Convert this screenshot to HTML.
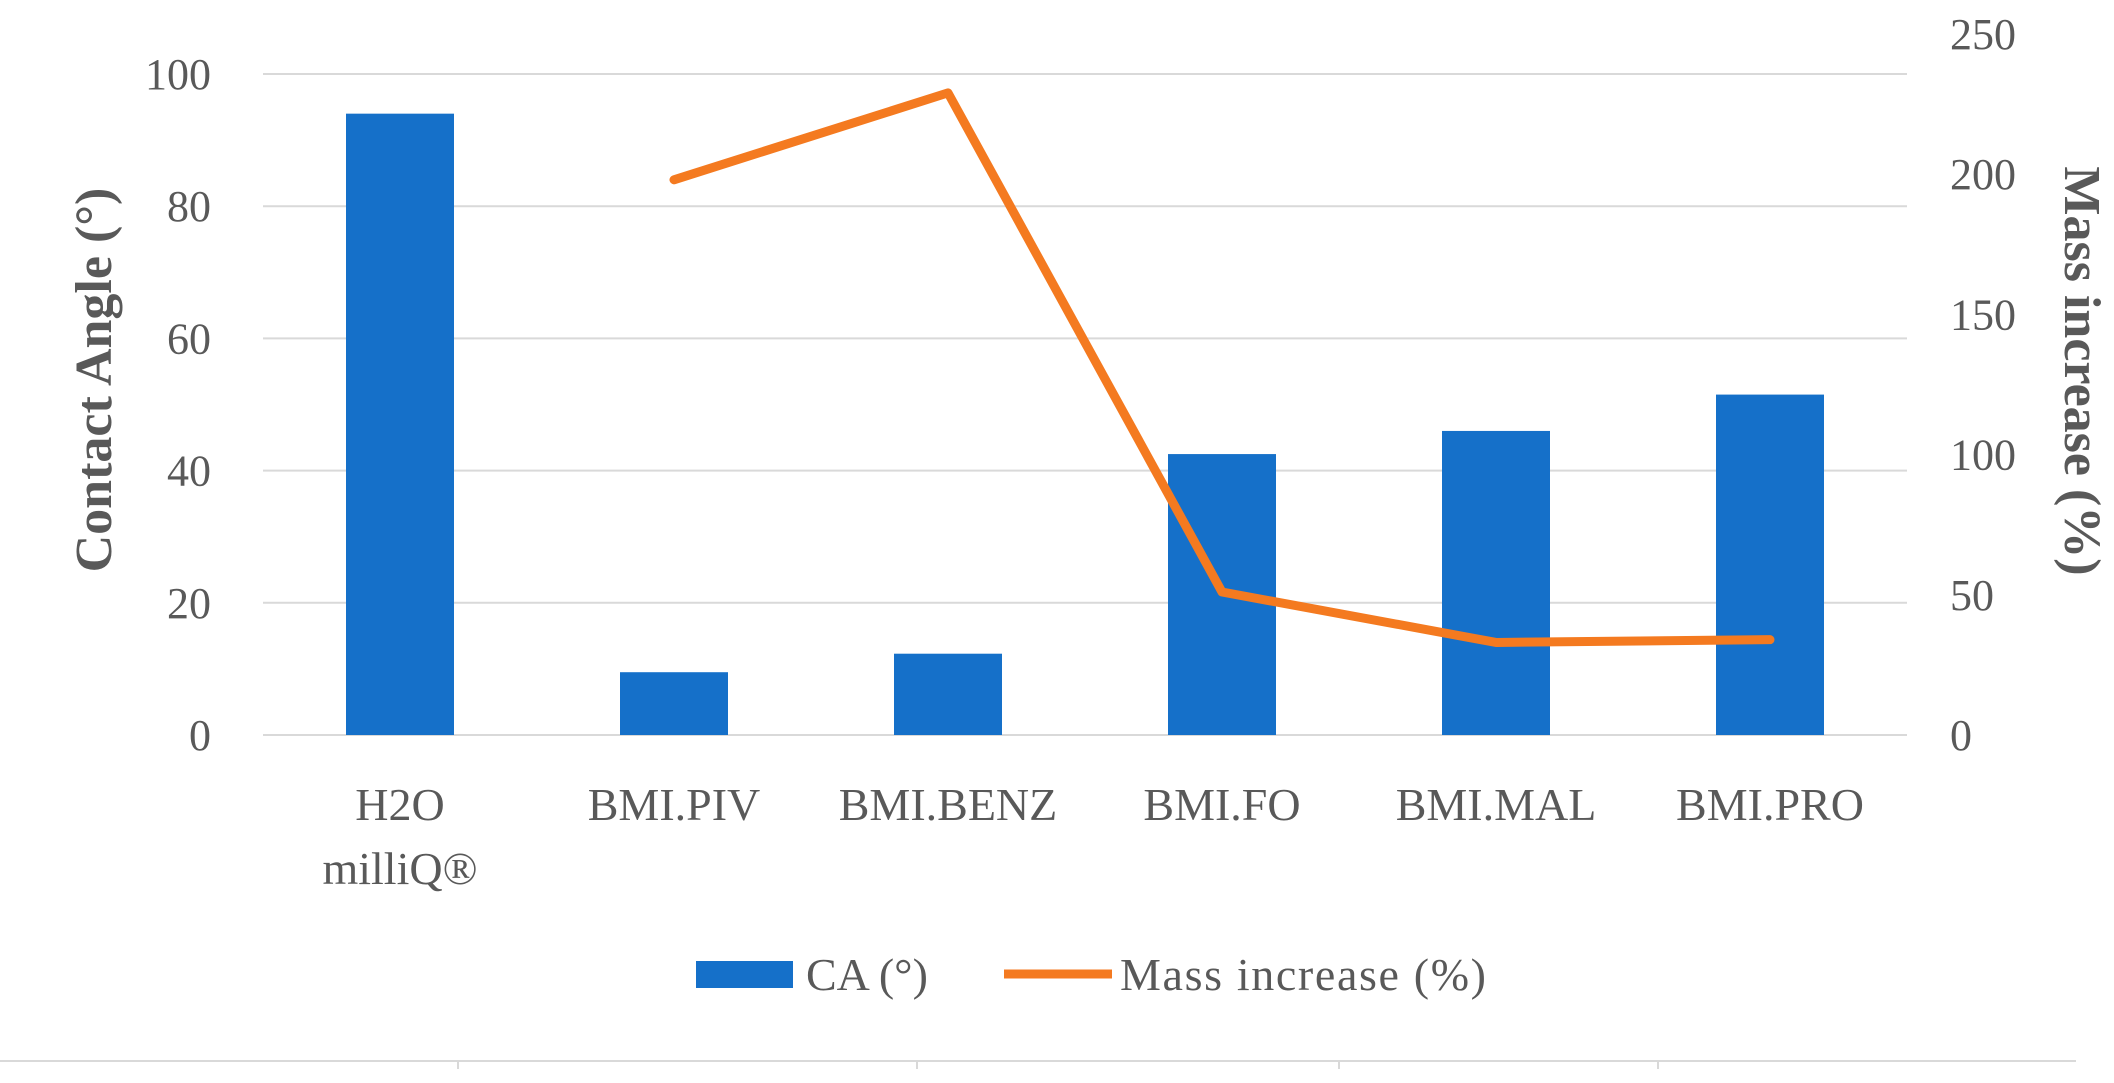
<!DOCTYPE html>
<html><head><meta charset="utf-8"><style>
html,body{margin:0;padding:0;background:#fff;}
svg{display:block;font-family:"Liberation Serif",serif;}
</style></head><body>
<svg id="chart" width="2114" height="1083" viewBox="0 0 2114 1083" xmlns="http://www.w3.org/2000/svg">
<g id="grid"></g>
<g id="bars"></g>
<g id="line"></g>
<g id="ylab"></g>
<g id="y2lab"></g>
<g id="xlab"></g>
<text transform="translate(111,380) rotate(-90)" text-anchor="middle" font-size="52" font-weight="bold" fill="#595959">Contact Angle (°)</text>
<text transform="translate(2065,371) rotate(90)" text-anchor="middle" font-size="52" font-weight="bold" fill="#595959">Mass increase (%)</text>
<g>
<rect x="696" y="961" width="97" height="27" fill="#1570c9"/>
<text x="806" y="990" font-size="46" fill="#595959">CA  (°)</text>
<line x1="1004" y1="974" x2="1112" y2="974" stroke="#f47a20" stroke-width="9"/>
<text x="1120" y="990" font-size="46" fill="#595959" textLength="366">Mass increase (%)</text>
</g>
<g stroke="#d9d9d9" stroke-width="2">
<line x1="0" y1="1061" x2="2076" y2="1061"/>
<line x1="458" y1="1061" x2="458" y2="1069"/><line x1="917" y1="1061" x2="917" y2="1069"/>
<line x1="1339" y1="1061" x2="1339" y2="1069"/><line x1="1658" y1="1061" x2="1658" y2="1069"/>
</g>
</svg>
<script>
const categories=["H2O milliQ®","BMI.PIV","BMI.BENZ","BMI.FO","BMI.MAL","BMI.PRO"];
const caValues=[94,9.5,12.3,42.5,46,51.5];
const massValues=[null,198,229,51,33,34];
const leftTicks=[0,20,40,60,80,100];
const rightTicks=[0,50,100,150,200,250];
const NS="http://www.w3.org/2000/svg";
const x0=263,x1=1907,yBase=735,yTopL=74,yTopR=34;
const band=(x1-x0)/categories.length;
const xc=i=>x0+band*(i+0.5);
const yL=v=>yBase-(v/100)*(yBase-yTopL);
const yR=v=>yBase-(v/250)*(yBase-yTopR);
function mk(t,a,p){const e=document.createElementNS(NS,t);for(const k in a)e.setAttribute(k,a[k]);document.getElementById(p).appendChild(e);return e;}
leftTicks.forEach(v=>{
 const g=mk('line',{x1:x0,x2:x1,y1:yL(v),y2:yL(v),stroke:'#d9d9d9','stroke-width':2},'grid');
 
 
 const t=mk('text',{x:211,y:yL(v)+15,'text-anchor':'end','font-size':44,fill:'#595959'},'ylab');
 t.textContent=v;
 
 
});
rightTicks.forEach(v=>{
 const t=mk('text',{x:1950,y:yR(v)+15,'font-size':44,fill:'#595959'},'y2lab');
 t.textContent=v;
 
 
});
const bw=108;
caValues.forEach((v,i)=>{
 const r=mk('rect',{x:xc(i)-bw/2,y:yL(v),width:bw,height:yBase-yL(v),fill:'#1570c9'},'bars');
 
 
});
categories.forEach((c,i)=>{
 const parts=c.split(' ');
 parts.forEach((p,j)=>{
  const t=mk('text',{x:xc(i),y:820+j*64,'text-anchor':'middle','font-size':46,fill:'#595959'},'xlab');
  t.textContent=p;
  
  
 });
});
const pts=massValues.map((v,i)=>v==null?null:[xc(i),yR(v)]).filter(p=>p);
const pl=mk('polyline',{points:pts.map(p=>p.join(',')).join(' '),fill:'none',stroke:'#f47a20','stroke-width':9,'stroke-linejoin':'round','stroke-linecap':'round'},'line');


</script>
</body></html>
